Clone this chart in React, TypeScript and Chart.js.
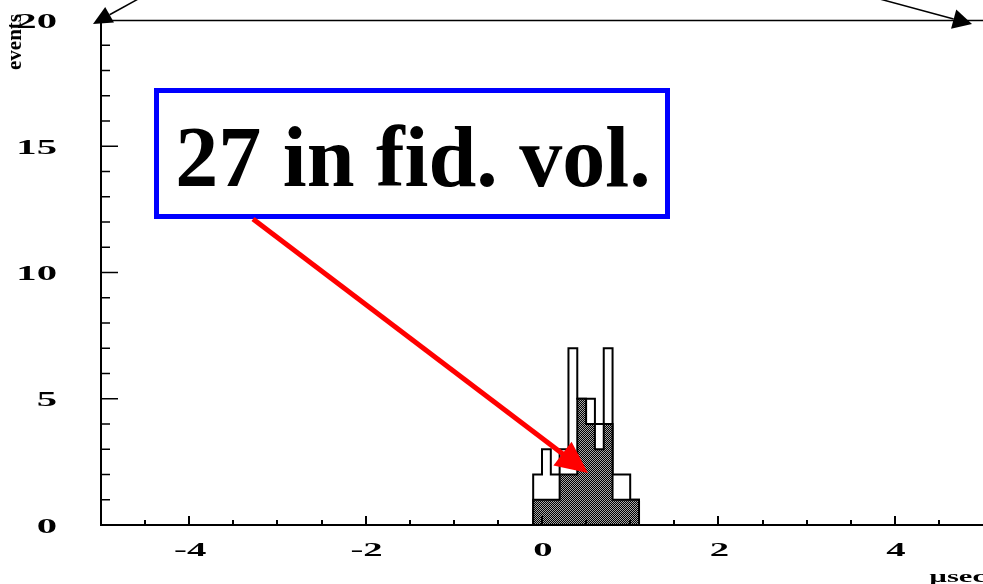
import React, { useEffect, useRef } from "react";
import { Chart, registerables } from "chart.js";

Chart.register(...registerables);

// ---- data ----
const binEdges = [-0.1, 0.0, 0.1, 0.2, 0.3, 0.4, 0.5, 0.6, 0.7, 0.8, 0.9, 1.0, 1.1];
const allEvents = [2, 3, 2, 3, 7, 5, 5, 4, 7, 2, 2, 1];
const fiducialEvents = [1, 1, 1, 2, 2, 5, 4, 3, 4, 1, 1, 1];
const xTickLabels = [-4, -2, 0, 2, 4];
const yTickLabels = [0, 5, 10, 15, 20];
const xRange = [-5, 5];
const yRange = [0, 20];
const xMinorStep = 0.5;
const yMinorStep = 1;
const annotationText = "27 in fid. vol.";
const xAxisTitle = "\u00b5sec";
const yAxisTitle = "events";

function histPoints(counts: number[]) {
  const pts: { x: number; y: number }[] = [{ x: binEdges[0], y: 0 }];
  counts.forEach((c, i) => pts.push({ x: binEdges[i], y: c }));
  const last = binEdges[binEdges.length - 1];
  pts.push({ x: last, y: counts[counts.length - 1] });
  pts.push({ x: last, y: 0 });
  return pts;
}

function makePattern(): CanvasPattern | string {
  const c = document.createElement("canvas");
  c.width = 2;
  c.height = 2;
  const g = c.getContext("2d");
  if (!g) return "#555555";
  g.fillStyle = "#000";
  g.fillRect(0, 0, 2, 2);
  g.fillStyle = "#a8a8a8";
  g.fillRect(0, 0, 1, 1);
  g.fillRect(1, 1, 1, 1);
  return g.createPattern(c, "repeat") || "#555555";
}

function stretchedText(
  ctx: CanvasRenderingContext2D,
  text: string,
  x: number,
  y: number,
  sx: number,
  align: CanvasTextAlign
) {
  ctx.save();
  ctx.translate(x, y);
  ctx.scale(sx, 1);
  ctx.textAlign = align;
  ctx.fillText(text, 0, 0);
  ctx.restore();
}

function arrowHead(
  ctx: CanvasRenderingContext2D,
  tipX: number,
  tipY: number,
  fromX: number,
  fromY: number,
  len: number,
  half: number
) {
  const dx = tipX - fromX;
  const dy = tipY - fromY;
  const d = Math.hypot(dx, dy);
  const ux = dx / d;
  const uy = dy / d;
  const bx = tipX - ux * len;
  const by = tipY - uy * len;
  ctx.beginPath();
  ctx.moveTo(tipX, tipY);
  ctx.lineTo(bx - uy * half, by + ux * half);
  ctx.lineTo(bx + uy * half, by - ux * half);
  ctx.closePath();
  ctx.fill();
  return { bx, by };
}

const decorations = {
  id: "decorations",
  afterDatasetsDraw(chart: any) {
    const { ctx, chartArea: a } = chart;
    const xs = chart.scales.x;
    const ys = chart.scales.y;
    ctx.save();
    ctx.strokeStyle = "#000";
    // x ticks, pointing inward
    ctx.lineWidth = 2;
    for (let v = xRange[0] + xMinorStep; v < xRange[1] - 1e-6; v += xMinorStep) {
      const px = Math.round(xs.getPixelForValue(v));
      const major = xTickLabels.some((t) => Math.abs(t - v) < 1e-6);
      const len = major ? 9 : 5;
      ctx.beginPath();
      ctx.moveTo(px, a.bottom);
      ctx.lineTo(px, a.bottom - len);
      ctx.stroke();
    }
    // y ticks, pointing inward
    ctx.lineWidth = 1.5;
    for (let v = yRange[0] + yMinorStep; v < yRange[1] - 1e-6; v += yMinorStep) {
      const py = ys.getPixelForValue(v);
      const major = yTickLabels.some((t) => Math.abs(t - v) < 1e-6);
      const len = major ? 17 : 9;
      ctx.beginPath();
      ctx.moveTo(a.left, py);
      ctx.lineTo(a.left + len, py);
      ctx.stroke();
    }
    ctx.restore();
  },
  afterDraw(chart: any) {
    const { ctx, chartArea: a } = chart;
    const xs = chart.scales.x;
    const ys = chart.scales.y;
    ctx.save();
    ctx.fillStyle = "#000";
    ctx.strokeStyle = "#000";

    // top frame line
    ctx.lineWidth = 1.5;
    ctx.beginPath();
    ctx.moveTo(a.left, a.top + 0.5);
    ctx.lineTo(a.right, a.top + 0.5);
    ctx.stroke();

    // tick labels
    ctx.textBaseline = "middle";
    ctx.font = "bold 22px 'Liberation Serif'";
    yTickLabels.forEach((t) => {
      stretchedText(ctx, String(t), 57, ys.getPixelForValue(t) + 2, 1.85, "right");
    });
    ctx.font = "bold 18px 'Liberation Serif'";
    xTickLabels.forEach((t) => {
      stretchedText(ctx, String(t), xs.getPixelForValue(t) + 1, 551, 2.15, "center");
    });

    // axis titles
    ctx.textBaseline = "alphabetic";
    ctx.font = "bold 17px 'Liberation Serif'";
    stretchedText(ctx, xAxisTitle, 986, 582, 1.8, "right");
    ctx.save();
    ctx.translate(21, 42);
    ctx.rotate(-Math.PI / 2);
    ctx.font = "bold 21px 'Liberation Serif'";
    ctx.textAlign = "center";
    ctx.fillText(yAxisTitle, 0, 0);
    ctx.restore();

    // black arrows at the top corners
    ctx.lineWidth = 1.5;
    const l = arrowHead(ctx, 93, 24, 136, 0, 19, 9);
    ctx.beginPath();
    ctx.moveTo(l.bx, l.by);
    ctx.lineTo(140, -2);
    ctx.stroke();
    const r = arrowHead(ctx, 972, 24, 883, 0, 19, 10);
    ctx.beginPath();
    ctx.moveTo(r.bx, r.by);
    ctx.lineTo(876, -2);
    ctx.stroke();

    // annotation box
    ctx.fillStyle = "#fff";
    ctx.fillRect(156, 90, 512, 127);
    ctx.strokeStyle = "#0000ff";
    ctx.lineWidth = 5;
    ctx.strokeRect(156.5, 90.5, 511, 126);
    ctx.fillStyle = "#000";
    ctx.font = "bold 86px 'Liberation Serif'";
    ctx.textAlign = "center";
    ctx.textBaseline = "alphabetic";
    ctx.fillText(annotationText, 413, 186);

    // red arrow
    ctx.fillStyle = "#ff0000";
    ctx.strokeStyle = "#ff0000";
    const h = arrowHead(ctx, 588, 473, 253, 219, 32, 15);
    ctx.lineWidth = 5;
    ctx.beginPath();
    ctx.moveTo(253, 219);
    ctx.lineTo(h.bx + 2, h.by + 1.5);
    ctx.stroke();

    ctx.restore();
  },
};

export default function App() {
  const ref = useRef<HTMLCanvasElement | null>(null);
  useEffect(() => {
    if (!ref.current) return;
    const pattern = makePattern();
    const chart = new Chart(ref.current, {
      type: "line",
      data: {
        datasets: [
          {
            label: "in fiducial volume",
            data: histPoints(fiducialEvents),
            stepped: "before",
            fill: "origin",
            backgroundColor: pattern as any,
            borderColor: "#000",
            borderWidth: 2,
            pointRadius: 0,
          },
          {
            label: "all events",
            data: histPoints(allEvents),
            stepped: "before",
            fill: "origin",
            backgroundColor: "#ffffff",
            borderColor: "#000",
            borderWidth: 2,
            pointRadius: 0,
          },
        ],
      },
      options: {
        animation: false,
        responsive: false,
        devicePixelRatio: 1,
        layout: { padding: { left: 101, top: 20, right: 0, bottom: 59 } },
        plugins: { legend: { display: false }, tooltip: { enabled: false } },
        scales: {
          x: {
            type: "linear",
            min: xRange[0],
            max: xRange[1],
            grid: { display: false, drawTicks: false },
            ticks: { display: false },
            border: { display: true, color: "#000", width: 2, z: 1 },
          },
          y: {
            type: "linear",
            min: yRange[0],
            max: yRange[1],
            grid: { display: false, drawTicks: false },
            ticks: { display: false },
            border: { display: true, color: "#000", width: 2, z: 1 },
          },
        },
      },
      plugins: [decorations],
    } as any);
    return () => chart.destroy();
  }, []);
  return (
    <div
      style={{
        position: "fixed",
        left: 0,
        top: 0,
        width: 983,
        height: 584,
        background: "#fff",
        overflow: "hidden",
      }}
    >
      <canvas ref={ref} width={983} height={584} style={{ display: "block" }} />
    </div>
  );
}
